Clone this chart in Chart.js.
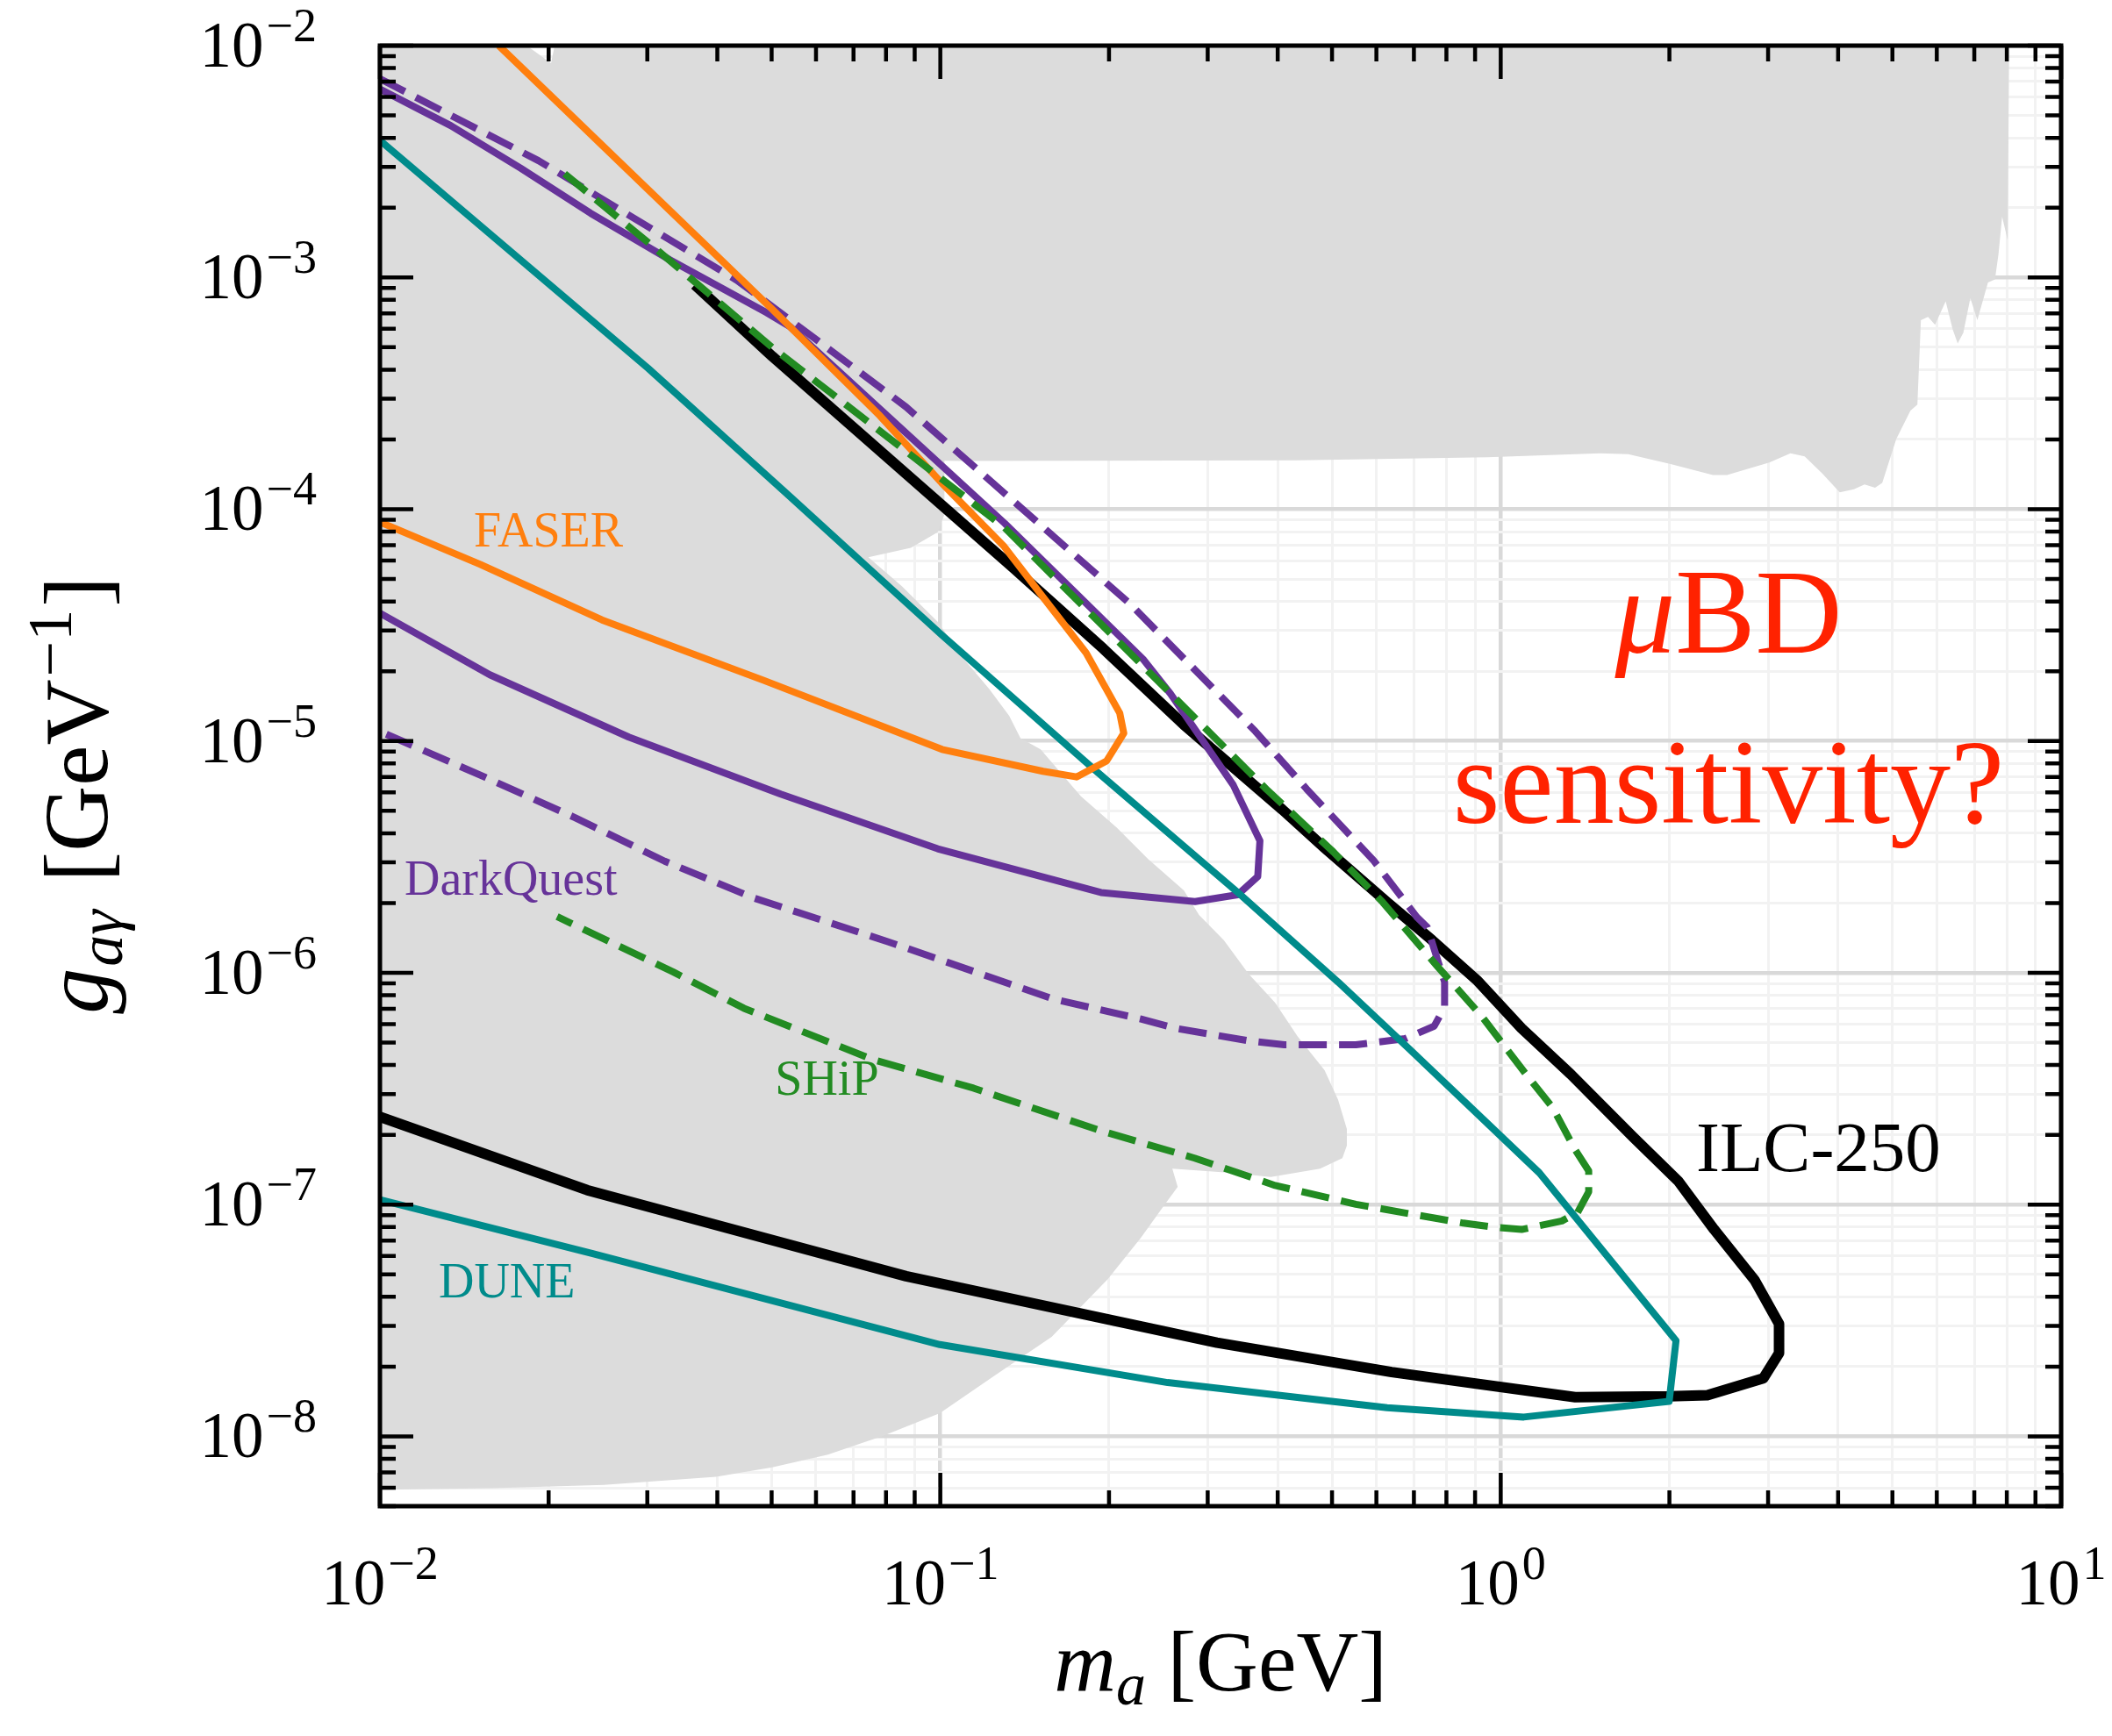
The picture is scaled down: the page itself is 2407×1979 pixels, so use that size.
<!DOCTYPE html>
<html>
<head>
<meta charset="utf-8">
<script src="https://cdn.jsdelivr.net/npm/chart.js@4.4.1/dist/chart.umd.min.js"></script>
<style>
  html, body { margin: 0; padding: 0; background: #fff; }
</style>
</head>
<body>
<canvas id="cv" width="2407" height="1979"></canvas>
<script>
// axis decades (m_a in GeV, g_agamma in GeV^-1)
const xMajor = [0.01, 0.1, 1, 10];
const yMajor = [1e-8, 1e-7, 1e-6, 1e-5, 1e-4, 1e-3, 1e-2];

// projected reach contours, [m_a, g]
const faser = [[0.0163,1.0e-2],[0.0501,7.3e-4],[0.078,2.53e-4],[0.1005,1.30e-4],[0.130,6.9e-5],[0.154,4.05e-5],
  [0.182,2.40e-5],[0.209,1.32e-5],[0.2125,1.08e-5],[0.198,8.2e-6],[0.175,7.0e-6],[0.1525,7.4e-6],
  [0.1007,9.2e-6],[0.0483,1.83e-5],[0.0249,3.33e-5],[0.0151,5.78e-5],[0.0100,8.8e-5]];

const darkQuest = [[0.01,6.5e-3],[0.01337,4.52e-3],[0.01782,2.96e-3],[0.02378,1.89e-3],[0.03293,1.19e-3],
  [0.04894,7.05e-4],[0.0539,6.14e-4],[0.1303,8.69e-5],[0.2306,2.24e-5],[0.2574,1.60e-5],[0.3332,6.46e-6],
  [0.3718,3.71e-6],[0.3685,2.60e-6],[0.3393,2.17e-6],[0.2848,2.03e-6],[0.1935,2.22e-6],[0.0989,3.43e-6],
  [0.0519,5.90e-6],[0.0278,1.04e-5],[0.01571,1.93e-5],[0.01,3.56e-5]];

const darkQuestII = [[0.01,7.2e-3],[0.01918,3.19e-3],[0.0434,9.70e-4],[0.0539,6.56e-4],[0.0869,2.76e-4],
  [0.1377,1.04e-4],[0.2182,3.90e-5],[0.365,1.10e-5],[0.4504,6.21e-6],[0.5933,3.05e-6],[0.7083,1.74e-6],
  [0.7397,1.57e-6],[0.794,9.13e-7],[0.794,7.12e-7],[0.761,5.89e-7],[0.6752,5.20e-7],[0.5515,4.89e-7],
  [0.411,4.89e-7],[0.3546,5.09e-7],[0.2618,5.77e-7],[0.228,6.32e-7],[0.159,7.71e-7],[0.0808,1.36e-6],
  [0.04654,2.10e-6],[0.03222,3.03e-6],[0.02229,4.67e-6],[0.01542,6.97e-6],[0.01,1.1e-5]];

const ship = [[0.02136,2.80e-3],[0.03099,1.335e-3],[0.05015,4.98e-4],[0.1303,8.31e-5],[0.2823,1.284e-5],
  [0.3817,6.20e-6],[0.5029,3.32e-6],[0.6159,2.015e-6],[0.7677,1.078e-6],[0.9228,6.54e-7],[1.1096,3.65e-7],
  [1.2389,2.615e-7],[1.358,1.722e-7],[1.4355,1.398e-7],[1.4355,1.136e-7],[1.371,9.23e-8],[1.2856,8.50e-8],
  [1.0896,7.81e-8],[0.9754,7.98e-8],[0.8574,8.32e-8],[0.5515,1.003e-7],[0.396,1.209e-7],[0.2843,1.586e-7],
  [0.1943,2.075e-7],[0.1146,3.18e-7],[0.07568,4.23e-7],[0.04463,7.03e-7],[0.0334,1.007e-6],[0.02071,1.747e-6]];

const ilc250 = [[0.03646,9.29e-4],[0.05015,4.56e-4],[0.1352,5.57e-5],[0.1954,2.50e-5],[0.272,1.176e-5],
  [0.4076,5.06e-6],[0.4849,3.46e-6],[0.627,2.015e-6],[0.7539,1.384e-6],[0.9062,9.31e-7],[1.0889,5.77e-7],
  [1.3335,3.65e-7],[1.7251,1.953e-7],[2.0745,1.262e-7],[2.4032,7.81e-8],[2.836,4.74e-8],[3.138,3.06e-8],
  [3.138,2.285e-8],[2.941,1.779e-8],[2.338,1.506e-8],[1.998,1.488e-8],[1.358,1.476e-8],[0.6386,1.895e-8],
  [0.3116,2.536e-8],[0.0869,4.91e-8],[0.02343,1.155e-7],[0.01,2.394e-7]];

const dune = [[0.01,3.9e-3],[0.03009,4.06e-4],[0.0539,1.134e-4],[0.1007,2.86e-5],[0.1883,7.54e-6],
  [0.3418,2.19e-6],[0.5125,9.13e-7],[0.6877,4.68e-7],[1.172,1.371e-7],[2.055,2.59e-8],[1.998,1.416e-8],
  [1.0992,1.212e-8],[0.627,1.329e-8],[0.2545,1.707e-8],[0.0998,2.489e-8],[0.02398,6.14e-8],[0.01,1.051e-7]];

// excluded region: top-left corner, lower edge of the upper band, then the beam-dump edge
const topCorner = [[0.01,1e-2],[0.01828,1e-2],[0.0202,8.4e-3],[0.0205,1e-2],[8.077,1e-2]];
const upperBandEdge = [[8.028,1.448e-3],[7.848,1.827e-3],[7.731,1.259e-3],[7.621,9.81e-4],[7.405,9.52e-4],
  [7.298,8.40e-4],[7.088,6.54e-4],[6.887,8.14e-4],[6.692,5.78e-4],[6.538,5.19e-4],[6.405,5.97e-4],
  [6.223,7.89e-4],[5.957,6.25e-4],[5.788,6.76e-4],[5.621,6.54e-4],[5.540,2.826e-4],[5.383,2.658e-4],
  [5.080,2.007e-4],[4.795,1.298e-4],[4.656,1.238e-4],[4.459,1.279e-4],[4.268,1.220e-4],[4.027,1.183e-4],
  [3.748,1.425e-4],[3.486,1.691e-4],[3.289,1.744e-4],[3.015,1.590e-4],[2.534,1.405e-4],[2.391,1.405e-4],
  [2.010,1.565e-4],[1.689,1.728e-4],[1.504,1.744e-4],[0.9463,1.676e-4],[0.4326,1.625e-4],[0.1084,1.614e-4]];
const beamDumpEdge = [[0.1017,1.618e-4],[0.1017,9.49e-5],[0.0989,7.95e-5],[0.0886,6.81e-5],[0.0744,6.21e-5],
  [0.0853,4.66e-5],[0.0989,3.27e-5],[0.1105,2.24e-5],[0.1222,1.68e-5],[0.1327,1.284e-5],[0.139,1.028e-5],
  [0.151,9.2e-6],[0.1782,5.77e-6],[0.2065,4.23e-6],[0.2348,3.10e-6],[0.272,2.27e-6],[0.2895,1.777e-6],
  [0.3205,1.384e-6],[0.3547,9.92e-7],[0.396,7.41e-7],[0.4341,5.31e-7],[0.4849,3.80e-7],[0.5125,2.84e-7],
  [0.5314,2.12e-7],[0.5314,1.797e-7],[0.5217,1.586e-7],[0.4761,1.429e-7],[0.3887,1.315e-7],[0.3296,1.371e-7],
  [0.2594,1.429e-7],[0.2652,1.193e-7],[0.2504,9.87e-8],[0.228,7.19e-8],[0.1988,4.76e-8],[0.158,2.69e-8],
  [0.1256,1.842e-8],[0.0998,1.26e-8],[0.0793,1.009e-8],[0.063,8.35e-9],[0.0501,7.35e-9],[0.0398,6.69e-9],
  [0.0251,6.18e-9],[0.01585,5.98e-9],[0.01,5.89e-9]];

const SERIF = '"Liberation Serif", "DejaVu Serif", serif';
const isDecade = v => Math.abs(Math.log10(v) - Math.round(Math.log10(v))) < 1e-6;

// 1..9 x 10^n between lo and hi
function logTicks(lo, hi) {
  const out = [];
  for (let e = Math.floor(Math.log10(lo)); e <= Math.ceil(Math.log10(hi)); e++) {
    for (let k = 1; k <= 9; k++) {
      const v = k * Math.pow(10, e);
      if (v >= lo * 0.9999 && v <= hi * 1.0001) out.push(v);
    }
  }
  return out;
}
const xTicks = logTicks(xMajor[0], xMajor[xMajor.length - 1]);
const yTicks = logTicks(5e-9, yMajor[yMajor.length - 1]);

// draw a row of text pieces [text, font, dy, gap]
function textRun(ctx, parts, x, y, align) {
  let w = 0;
  parts.forEach(p => { ctx.font = p[1]; w += ctx.measureText(p[0]).width + (p[3] || 0); });
  let cx = align === 'center' ? x - w / 2 : align === 'right' ? x - w : x;
  ctx.textAlign = 'left';
  ctx.textBaseline = 'alphabetic';
  parts.forEach(p => {
    ctx.font = p[1];
    cx += p[3] || 0;
    ctx.fillText(p[0], cx, y + (p[2] || 0));
    cx += ctx.measureText(p[0]).width;
  });
}

const powLabel = v => {
  const e = Math.round(Math.log10(v));
  return [['10', '73px ' + SERIF, 0], [(e < 0 ? '\u2212' : '') + Math.abs(e), '54px ' + SERIF, -29, 3]];
};

const frame = {
  id: 'frame',
  afterDatasetsDraw(chart) {
    const ctx = chart.ctx, a = chart.chartArea;
    const sx = chart.scales.x, sy = chart.scales.y;
    ctx.save();

    // labels on the plot
    const note = (parts, m, g, color, align) => {
      ctx.fillStyle = color;
      textRun(ctx, parts, sx.getPixelForValue(m), sy.getPixelForValue(g), align);
    };
    note([['FASER', '56px ' + SERIF]], 0.01471, 6.88e-5, '#ff7f0e');
    note([['DarkQuest', '56px ' + SERIF]], 0.01106, 2.18e-6, '#663399');
    note([['SHiP', '56px ' + SERIF]], 0.0507, 2.98e-7, '#228b22');
    note([['DUNE', '56px ' + SERIF]], 0.01273, 3.99e-8, '#008b8b');
    note([['ILC-250', '81px ' + SERIF]], 2.231, 1.40e-7, '#000000');
    note([['\u03bc', 'italic 137px ' + SERIF], ['BD', '137px ' + SERIF]], 2.55, 2.41e-5, '#ff2200', 'center');
    note([['sensitivity?', '138px ' + SERIF]], 2.55, 4.44e-6, '#ff2200', 'center');

    // inward ticks on all four sides
    ctx.strokeStyle = '#000';
    ctx.lineWidth = 4.5;
    ctx.beginPath();
    xTicks.forEach(v => {
      const px = sx.getPixelForValue(v), len = isDecade(v) ? 38 : 18;
      ctx.moveTo(px, a.bottom); ctx.lineTo(px, a.bottom - len);
      ctx.moveTo(px, a.top); ctx.lineTo(px, a.top + len);
    });
    yTicks.forEach(v => {
      const py = sy.getPixelForValue(v), len = isDecade(v) ? 38 : 18;
      ctx.moveTo(a.left, py); ctx.lineTo(a.left + len, py);
      ctx.moveTo(a.right, py); ctx.lineTo(a.right - len, py);
    });
    ctx.stroke();
    ctx.lineWidth = 5;
    ctx.strokeRect(a.left, a.top, a.right - a.left, a.bottom - a.top);

    // tick labels
    ctx.fillStyle = '#000';
    xMajor.forEach(v => textRun(ctx, powLabel(v), sx.getPixelForValue(v), a.bottom + 112, 'center'));
    yMajor.forEach(v => textRun(ctx, powLabel(v), a.left - 72, sy.getPixelForValue(v) + 24, 'right'));

    // axis titles
    textRun(ctx, [['m', 'italic 98px ' + SERIF], ['a', 'italic 68px ' + SERIF, 16], [' [GeV]', '98px ' + SERIF]],
      (a.left + a.right) / 2, a.bottom + 210, 'center');
    ctx.translate(122, (a.top + a.bottom) / 2 + 22);
    ctx.rotate(-Math.PI / 2);
    textRun(ctx, [['g', 'italic 104px ' + SERIF], ['a\u03b3', 'italic 72px ' + SERIF, 17, 2],
      [' [GeV', '104px ' + SERIF, 0, 6], ['\u22121', '72px ' + SERIF, -41, 3], [']', '104px ' + SERIF, 0, 3]], 0, 0, 'center');
    ctx.restore();
  }
};

function curve(pts, color, width, dash, order) {
  return {
    data: pts.map(p => ({x: p[0], y: p[1]})),
    borderColor: color, borderWidth: width, borderDash: dash || [],
    borderJoinStyle: 'round', showLine: true, pointRadius: 0, fill: false, clip: 0, order
  };
}

const excluded = [...topCorner, ...upperBandEdge, ...beamDumpEdge];

const gridOpts = {
  drawTicks: false,
  color: c => isDecade(c.tick.value) ? '#d9d9d9' : '#f2f2f2',
  lineWidth: c => isDecade(c.tick.value) ? 4.5 : 3
};

new Chart(document.getElementById('cv'), {
  type: 'scatter',
  data: {
    datasets: [
      { data: excluded.map(p => ({x: p[0], y: p[1]})), showLine: true, pointRadius: 0, borderWidth: 0,
        backgroundColor: '#dcdcdc', fill: 'shape', clip: 0, order: 10 },
      curve(ilc250, '#000000', 12, null, 6),
      curve(darkQuest, '#663399', 8, null, 5),
      curve(darkQuestII, '#663399', 8, [32, 14], 4),
      curve(dune, '#008b8b', 8, null, 3),
      curve(faser, '#ff7f0e', 8, null, 2),
      curve(ship, '#228b22', 8, [32, 14], 1)
    ]
  },
  options: {
    responsive: false,
    animation: false,
    devicePixelRatio: 1,
    layout: { padding: { left: 433, top: 52, right: 58, bottom: 262 } },
    plugins: { legend: { display: false }, tooltip: { enabled: false } },
    scales: {
      x: {
        type: 'logarithmic', min: 0.01, max: 10,
        afterBuildTicks: s => { s.ticks = xTicks.map(v => ({value: v})); },
        afterFit: s => { s.height = 0; },
        ticks: { display: false }, border: { display: false }, grid: gridOpts
      },
      y: {
        type: 'logarithmic', min: 5e-9, max: 1e-2,
        afterBuildTicks: s => { s.ticks = yTicks.map(v => ({value: v})); },
        afterFit: s => { s.width = 0; },
        ticks: { display: false }, border: { display: false }, grid: gridOpts
      }
    }
  },
  plugins: [frame]
});
</script>
</body>
</html>
